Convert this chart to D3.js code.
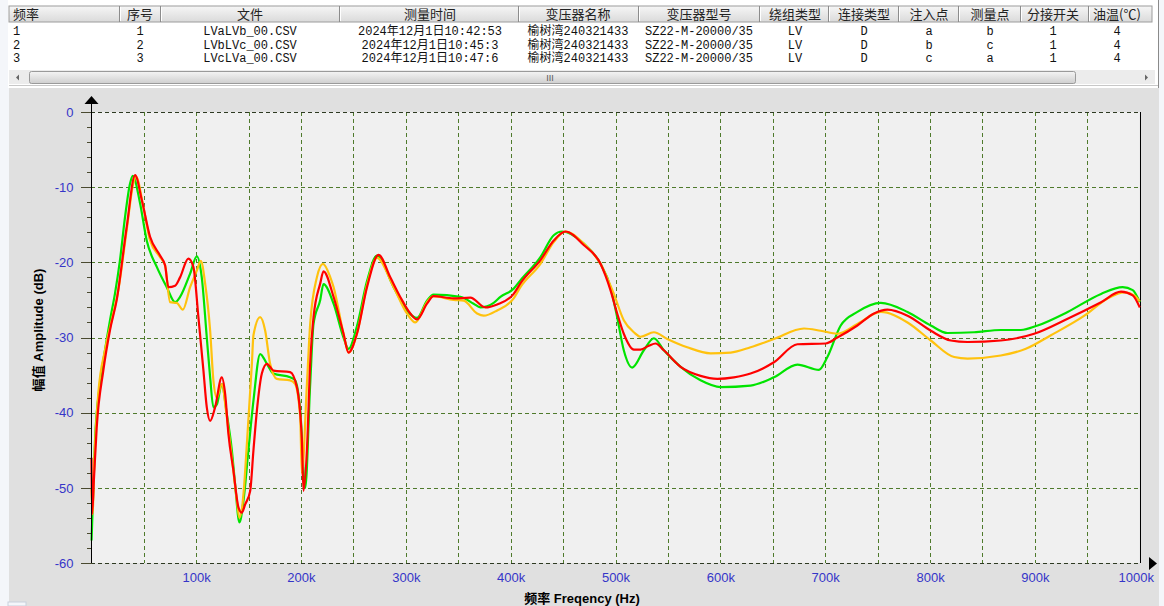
<!DOCTYPE html>
<html><head><meta charset="utf-8">
<script src="https://cdn.jsdelivr.net/npm/d3@7"></script>
<style>
html,body{margin:0;padding:0;background:#f4f6fa;overflow:hidden;}
svg{display:block;}
</style></head>
<body>
<svg id="c" width="1164" height="606"></svg>
<script>
// ---------- data ----------
const tableHeaders = ["频率","序号","文件","测量时间","变压器名称","变压器型号","绕组类型","连接类型","注入点","测量点","分接开关","油温(℃)"];
const tableRows = [
  ["1","1","LVaLVb_00.CSV","2024年12月1日10:42:53","榆树湾240321433","SZ22-M-20000/35","LV","D","a","b","1","4"],
  ["2","2","LVbLVc_00.CSV","2024年12月1日10:45:3","榆树湾240321433","SZ22-M-20000/35","LV","D","b","c","1","4"],
  ["3","3","LVcLVa_00.CSV","2024年12月1日10:47:6","榆树湾240321433","SZ22-M-20000/35","LV","D","c","a","1","4"]
];
const seriesNames = ["LVaLVb_00.CSV","LVbLVc_00.CSV","LVcLVa_00.CSV"];
const xTickLabels = ["100k","200k","300k","400k","500k","600k","700k","800k","900k","1000k"];
const yTickValues = [0,-10,-20,-30,-40,-50,-60];

// [frequency kHz, amplitude dB]
const lvaLvb = [[0.2,-46],[0.8,-53.5],[2.5,-49],[5.2,-42],[11.5,-34.4],[17.9,-29],[24.3,-25],[33.8,-15.3],[41.8,-8.4],[48.2,-11.7],[56.1,-16.6],[65.6,-19.1],[70.4,-20.4],[73.6,-23.3],[80,-23.1],[84.7,-22],[92.6,-19.5],[97.4,-20.6],[102.2,-27.3],[107,-34.4],[110.2,-39.3],[113.4,-41.1],[118.1,-39.3],[124.5,-35.3],[127.7,-37.5],[130.8,-42.8],[135.6,-47.7],[140.4,-52.6],[143.6,-53.3],[146.8,-52.2],[151.6,-50.4],[154.7,-45],[158,-39.7],[162.7,-34.8],[167.5,-33.5],[173.8,-34.4],[189.7,-34.6],[196.1,-36.6],[200.9,-43.7],[202.4,-50.4],[205.7,-45],[208.8,-33.5],[212,-27.3],[218.4,-22.8],[221.5,-21.2],[231.1,-24.6],[240.6,-29.5],[245.4,-32],[253.4,-29.5],[263,-23.3],[274,-19],[285.2,-22],[294.7,-24.6],[304.3,-26.8],[310.7,-27.6],[320.2,-25.5],[326.5,-24.5],[345.6,-24.8],[361.6,-24.7],[375.9,-26],[387.1,-25.6],[402.9,-24.2],[409.3,-22.8],[428.4,-19.7],[441.1,-17.1],[452.3,-15.9],[469.7,-17.7],[485.7,-20.2],[495.2,-23.7],[501.6,-26.8],[507.9,-29.5],[517.5,-31.6],[523.9,-31.6],[531.8,-31.1],[538.2,-30.8],[546.1,-31.7],[562.1,-33.9],[581.1,-35.1],[597.1,-35.5],[612.9,-35.3],[628.8,-34.8],[651.1,-33.3],[673.5,-30.9],[700.5,-30.8],[711.6,-30],[730.7,-28.4],[746.6,-26.8],[759.4,-26.3],[778.5,-27.1],[800.7,-29.1],[819.8,-30.4],[835.8,-30.6],[867.5,-30.4],[899.3,-29.5],[931.2,-27.5],[963.1,-25.3],[982.1,-23.9],[993.3,-24.4],[1000,-26]];
const lvbLvc = [[0.3,-57],[1.5,-52],[3.6,-43.7],[8.4,-36.1],[13.1,-31.7],[17.9,-27.7],[22.7,-24.1],[27.4,-19.7],[32.2,-14],[37,-9.5],[39.6,-8.5],[46.5,-12.1],[52.9,-17.1],[62.5,-20.6],[72,-23.3],[80,-25.3],[84.7,-24.6],[94.3,-21.5],[100.7,-19.2],[105.4,-22],[110.2,-30],[113.4,-35.3],[116.5,-39.3],[119.8,-38.9],[124.5,-36.2],[129.3,-40.2],[134.1,-45],[137.2,-49.5],[141.3,-54.6],[145.2,-51.7],[149.9,-45],[154.7,-38.4],[161.1,-32.2],[167.5,-33.5],[173.8,-34.8],[189.7,-35.3],[194.5,-35.7],[199.3,-39.7],[204.1,-50],[208.8,-36.2],[212,-28.2],[218.4,-25],[221.5,-22.9],[231.1,-25.5],[240.6,-30],[245.4,-31.5],[253.4,-28.5],[263,-22.5],[272.5,-19.1],[288.4,-23.3],[301.1,-26.4],[310.7,-27.4],[320.2,-25.1],[326.5,-24.3],[352,-24.6],[364.7,-25.5],[371.1,-26],[383.8,-25.4],[390.2,-24.6],[402.9,-23.5],[409.3,-22.4],[428.4,-19.3],[441.1,-16.4],[449.1,-15.9],[469.7,-17.5],[485.7,-20.2],[495.2,-23.3],[501.6,-27.3],[507.9,-31.7],[515.9,-34],[527,-31.7],[536.6,-30.1],[546.1,-31.7],[562.1,-33.9],[581.1,-35.7],[600.2,-36.6],[628.8,-36.4],[651.1,-35.3],[673.5,-33.6],[694.1,-34.3],[702.1,-32.6],[714.8,-28.4],[730.7,-26.6],[753,-25.4],[778.5,-26.6],[800.7,-28.4],[816.6,-29.4],[842,-29.3],[867.5,-29],[886.6,-29],[902.6,-28.4],[931.2,-26.6],[963.1,-24.2],[983.7,-23.3],[993.3,-23.7],[1000,-25.3]];
const lvcLva = [[0.3,-50],[1.2,-53.5],[3,-46],[6.7,-37.5],[13.1,-31.7],[19.5,-27.7],[25.8,-23.7],[33.8,-15.7],[40.1,-9.5],[42.7,-8.6],[49.7,-12.6],[56.1,-17.1],[65.6,-19.3],[70.4,-20.4],[75.2,-25.3],[81.6,-25.4],[87.3,-26.3],[94.3,-23.3],[100.7,-21.1],[104.5,-19.8],[108.6,-22.8],[113.4,-29.1],[116.5,-35.7],[119.8,-38],[124.5,-36.2],[129.3,-40.6],[134.1,-46],[138.9,-51.7],[141.3,-54],[145.2,-50.8],[148.4,-44.2],[153.2,-33.5],[154.7,-29.7],[161.1,-27.3],[165.9,-29.1],[170.6,-33.5],[177,-35.5],[189.7,-35.7],[194.5,-36.2],[199.3,-40.6],[200.9,-48.1],[205.7,-36.2],[208.8,-28.2],[215.2,-22],[221,-20.2],[228,-22],[231.1,-23.3],[240.6,-29.5],[245.4,-32],[253.4,-29.5],[263,-23],[272.5,-19.4],[288.4,-23.3],[301.1,-26.8],[309.1,-28],[320.2,-25.3],[326.5,-24.5],[345.6,-25],[355.2,-25.1],[368,-26.8],[374.3,-27.1],[387.1,-26.4],[402.9,-24.8],[409.3,-23.3],[428.4,-20.2],[441.1,-17.3],[452.3,-15.9],[469.7,-17.5],[485.7,-20.2],[498.4,-24.2],[507.9,-27.7],[517.5,-29.3],[523.9,-29.9],[536.6,-29.3],[549.4,-30.2],[568.4,-31.3],[590.7,-32.1],[609.8,-32],[628.8,-31.3],[651.1,-30.2],[679.8,-28.8],[695.7,-29.1],[711.6,-29.5],[730.7,-28.2],[753,-26.6],[778.5,-28],[800.7,-30.4],[823,-32.6],[835.8,-32.8],[867.5,-32.4],[891.4,-31.5],[915.3,-29.7],[947.2,-27.1],[969.4,-24.8],[985.3,-24],[994.8,-24.4],[1000,-25.2]];

// ---------- drawing ----------
const svg = d3.select("#c");
const defs = svg.append("defs");
const hg = defs.append("linearGradient").attr("id","hdr").attr("x1",0).attr("y1",0).attr("x2",0).attr("y2",1);
hg.append("stop").attr("offset","0%").attr("stop-color","#f6f6f6");
hg.append("stop").attr("offset","100%").attr("stop-color","#dadada");
const sg = defs.append("linearGradient").attr("id","thumb").attr("x1",0).attr("y1",0).attr("x2",0).attr("y2",1);
sg.append("stop").attr("offset","0%").attr("stop-color","#f4f4f4");
sg.append("stop").attr("offset","100%").attr("stop-color","#cfcfcf");

// table area
svg.append("rect").attr("x",8).attr("y",0).attr("width",1150).attr("height",88).attr("fill","#ffffff");
svg.append("line").attr("x1",1158.5).attr("x2",1158.5).attr("y1",0).attr("y2",88).attr("stroke","#8a8a8a");

const colEdges = [9,119,160,339,518,638,759,828,898,958,1020,1088,1152];
const colCenters = [13,140,250,430,578,699,795,864,929,990,1053,1117];
const hdr = svg.append("g");
hdr.append("rect").attr("x",9).attr("y",6).attr("width",1143).attr("height",16).attr("fill","url(#hdr)").attr("stroke","#9c9c9c");
colEdges.slice(1,-1).forEach(e=>{
  hdr.append("line").attr("x1",e+0.5).attr("x2",e+0.5).attr("y1",6).attr("y2",22).attr("stroke","#8c8c8c");
  hdr.append("line").attr("x1",e+1.5).attr("x2",e+1.5).attr("y1",7).attr("y2",21).attr("stroke","#ffffff");
});
hdr.selectAll("text.h").data(tableHeaders).join("text")
  .attr("x",(d,i)=>colCenters[i]).attr("y",19)
  .attr("text-anchor",(d,i)=>i===0?"start":"middle")
  .attr("font-family","'Noto Sans CJK SC','Liberation Sans',sans-serif").attr("font-size",13)
  .attr("fill","#222").text(d=>d);

const body = svg.append("g");
tableRows.forEach((row,r)=>{
  body.selectAll("text.r"+r).data(row).join("text")
    .attr("x",(d,i)=>colCenters[i]).attr("y",35+r*13.7)
    .attr("text-anchor",(d,i)=>i===0?"start":"middle")
    .attr("font-family","'Liberation Mono','Noto Sans CJK SC',monospace").attr("font-size",12)
    .attr("fill","#111").text(d=>d);
});

// scrollbar
const sb = svg.append("g");
sb.append("rect").attr("x",9).attr("y",70).attr("width",1146).attr("height",14).attr("fill","#ececec");
sb.append("rect").attr("x",29.5).attr("y",71.5).attr("width",1046).attr("height",12).attr("rx",2).attr("fill","url(#thumb)").attr("stroke","#9a9a9a");
sb.append("text").attr("x",550).attr("y",81).attr("text-anchor","middle").attr("font-family","Liberation Sans").attr("font-size",9).attr("fill","#555").text("III");
sb.append("path").attr("d","M16,77.5 L19,74.5 L19,80.5 Z").attr("fill","#666");
sb.append("path").attr("d","M1148,77.5 L1145,74.5 L1145,80.5 Z").attr("fill","#666");
svg.append("line").attr("x1",9).attr("x2",1158).attr("y1",85.5).attr("y2",85.5).attr("stroke","#c8c8c8");

// chart background
svg.append("rect").attr("x",9).attr("y",88).attr("width",1150).attr("height",518).attr("fill","#e0e0e0");
svg.append("rect").attr("x",8).attr("y",602).attr("width",18).attr("height",4).attr("fill","#f4f6fa").attr("stroke","#c8d0dc");

const x = d3.scaleLinear().domain([0,1000]).range([91.25,1139.75]);
const y = d3.scaleLinear().domain([-60,0]).range([563,112]);

svg.append("rect").attr("x",x(0)).attr("y",y(0)).attr("width",x(1000)-x(0)).attr("height",y(-60)-y(0)).attr("fill","#f0f0f0");

const grid = svg.append("g").attr("shape-rendering","crispEdges");
const gridColor = "#4f7a2c";
grid.selectAll("line.v").data(d3.range(50,1000,50)).join("line")
  .attr("x1",d=>Math.round(x(d))+0.5).attr("x2",d=>Math.round(x(d))+0.5)
  .attr("y1",y(0)).attr("y2",y(-60)).attr("stroke",gridColor).attr("stroke-dasharray","4,3");
grid.selectAll("line.h").data([-10,-20,-30,-40,-50]).join("line")
  .attr("x1",x(0)).attr("x2",x(1000)).attr("y1",d=>Math.round(y(d))+0.5).attr("y2",d=>Math.round(y(d))+0.5)
  .attr("stroke",gridColor).attr("stroke-dasharray","4,3");
grid.selectAll("line.b").data([0,-60]).join("line")
  .attr("x1",x(0)).attr("x2",x(1000)).attr("y1",d=>Math.round(y(d))+0.5).attr("y2",d=>Math.round(y(d))+0.5)
  .attr("stroke","#2e3a22").attr("stroke-dasharray","4,3");
grid.append("line").attr("x1",Math.round(x(1000))+0.5).attr("x2",Math.round(x(1000))+0.5)
  .attr("y1",y(0)).attr("y2",y(-60)).attr("stroke","#000");

// curves
const line = d3.line().x(d=>x(d[0])).y(d=>y(d[1])).curve(d3.curveMonotoneX);
const seriesData = [lvbLvc, lvcLva, lvaLvb];
const seriesColors = ["#00e400","#ffc20e","#ff0000"];
svg.append("g").selectAll("path").data(seriesData).join("path")
  .attr("d",line).attr("fill","none")
  .attr("stroke",(d,i)=>seriesColors[i]).attr("stroke-width",2.2).attr("stroke-linejoin","round");

// y axis
const yAxis = d3.axisLeft(y).tickValues(d3.range(-60,1,2)).tickSize(11).tickPadding(7)
  .tickFormat(d=>yTickValues.includes(d)?d3.format("d")(d).replace("−","-"):"");
const ya = svg.append("g").attr("transform",`translate(${Math.round(x(0))+0.5},0)`).call(yAxis);
ya.select(".domain").remove();
ya.selectAll(".tick line").attr("stroke","#4a4a30").attr("x2",d=>d%10===0?-11:-5).attr("shape-rendering","crispEdges");
ya.selectAll(".tick text").attr("fill","#3535c8").attr("font-family","'Liberation Sans',sans-serif").attr("font-size",13);
svg.append("line").attr("x1",Math.round(x(0))+0.5).attr("x2",Math.round(x(0))+0.5).attr("y1",103).attr("y2",y(-60)).attr("stroke","#000").attr("shape-rendering","crispEdges");
svg.append("path").attr("d",`M${Math.round(x(0))+0.5},96 L${Math.round(x(0))-6.5},104 L${Math.round(x(0))+7.5},104 Z`).attr("fill","#000");

// x axis labels
const xAxis = d3.axisBottom(x).tickValues(d3.range(100,1001,100)).tickSize(0).tickPadding(10)
  .tickFormat((d,i)=>xTickLabels[i]);
const xa = svg.append("g").attr("transform",`translate(0,${y(-60)})`).call(xAxis);
xa.select(".domain").remove();
xa.selectAll(".tick text").attr("fill","#3535c8").attr("font-family","'Liberation Sans',sans-serif").attr("font-size",13)
  .attr("dx",(d)=>d===1000?-4:0);
svg.append("path").attr("d",`M1157,563.5 L1149,557 L1149,570 Z`).attr("fill","#000");

// titles
svg.append("text").attr("transform","translate(43,330) rotate(-90)").attr("text-anchor","middle")
  .attr("font-family","'Liberation Sans','Noto Sans CJK SC',sans-serif").attr("font-weight","bold").attr("font-size",13)
  .attr("fill","#000").text("幅值 Amplitude (dB)");
svg.append("text").attr("x",582).attr("y",603).attr("text-anchor","middle")
  .attr("font-family","'Liberation Sans','Noto Sans CJK SC',sans-serif").attr("font-weight","bold").attr("font-size",13)
  .attr("fill","#000").text("频率 Freqency (Hz)");
</script>
</body></html>
